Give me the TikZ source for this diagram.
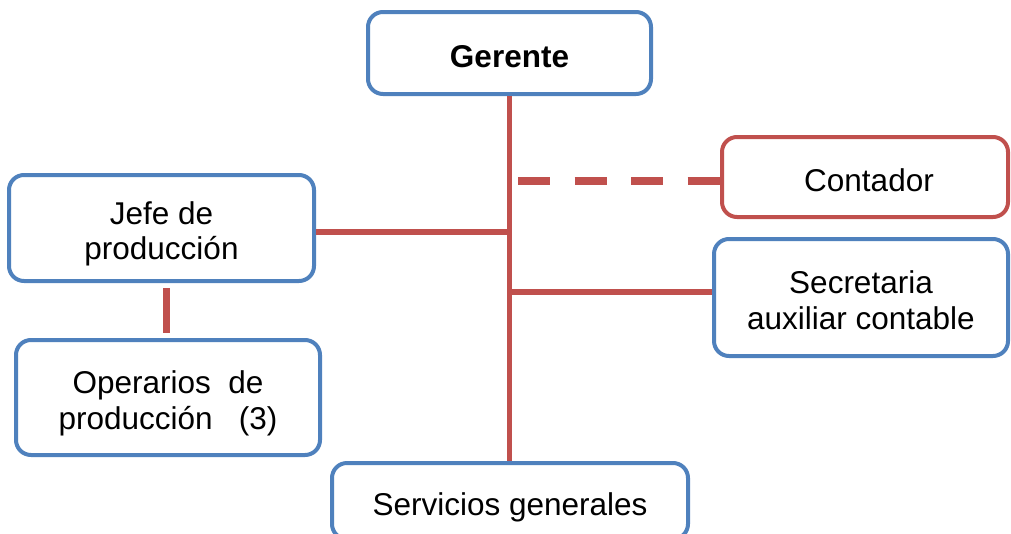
\documentclass[tikz,border=0pt]{standalone}
\usepackage{fontspec}
\setmainfont{Liberation Sans}
\definecolor{boxblue}{HTML}{4F81BD}
\definecolor{linered}{HTML}{C0504D}
% struts that set the top of the first line and the bottom of the last
\newcommand\topstrut{\rule{0pt}{35pt}}
\newcommand\botstrut{\rule[-6.8pt]{0pt}{0pt}}
\begin{document}
\begin{tikzpicture}[x=1pt,y=-1pt,
  orgbox/.style={draw=boxblue, line width=4pt, rounded corners=15pt, fill=white,
    inner sep=0pt, align=center, font=\fontsize{31.5}{35.5}\selectfont},
  redbox/.style={orgbox, draw=linered},
  link/.style={draw=linered, line width=6.5pt},
  trunk/.style={draw=linered, line width=5pt},
  dashlink/.style={draw=linered, line width=8pt, dash pattern=on 32pt off 24.5pt}]
\useasboundingbox (0,0) rectangle (1011,533);

% boxes
\node[orgbox, minimum width=283pt, minimum height=82pt] (ger) at (509.5,53)
  {\topstrut\botstrut\bfseries Gerente};
\node[redbox, minimum width=286pt, minimum height=80pt] (cont) at (865,177)
  {\topstrut\botstrut\hspace*{8pt}Contador};
\node[orgbox, minimum width=305pt, minimum height=106pt] (jefe) at (161.5,228)
  {\topstrut Jefe de\\\botstrut producción};
\node[orgbox, minimum width=294pt, minimum height=117pt] (sec) at (861,297.5)
  {\topstrut Secretaria\\\botstrut auxiliar contable};
\node[orgbox, minimum width=304pt, minimum height=115pt] (op) at (168,397.5)
  {\topstrut Operarios\ \ de\\\botstrut producción\ \ \ (3)};
\node[orgbox, minimum width=356pt, minimum height=76pt] (serv) at (510,501)
  {\topstrut\botstrut Servicios generales};

% free ends of the side links
\coordinate (dashend) at (518,181);
\coordinate (secend) at (512,292);
\coordinate (optop) at (166,288);

% connectors
\draw[trunk] (ger.south) -- (ger.south |- serv.north);
\draw[link] ([yshift=-4pt]jefe.east) -- ([yshift=-4pt]jefe.east -| ger.south);
\draw[dashlink] (dashend) -- (dashend -| cont.west);
\draw[link] (secend) -- (secend -| sec.west);
\draw[link, line width=7pt, shorten >=5pt] (optop) -- (optop |- op.north);
\end{tikzpicture}
\end{document}
